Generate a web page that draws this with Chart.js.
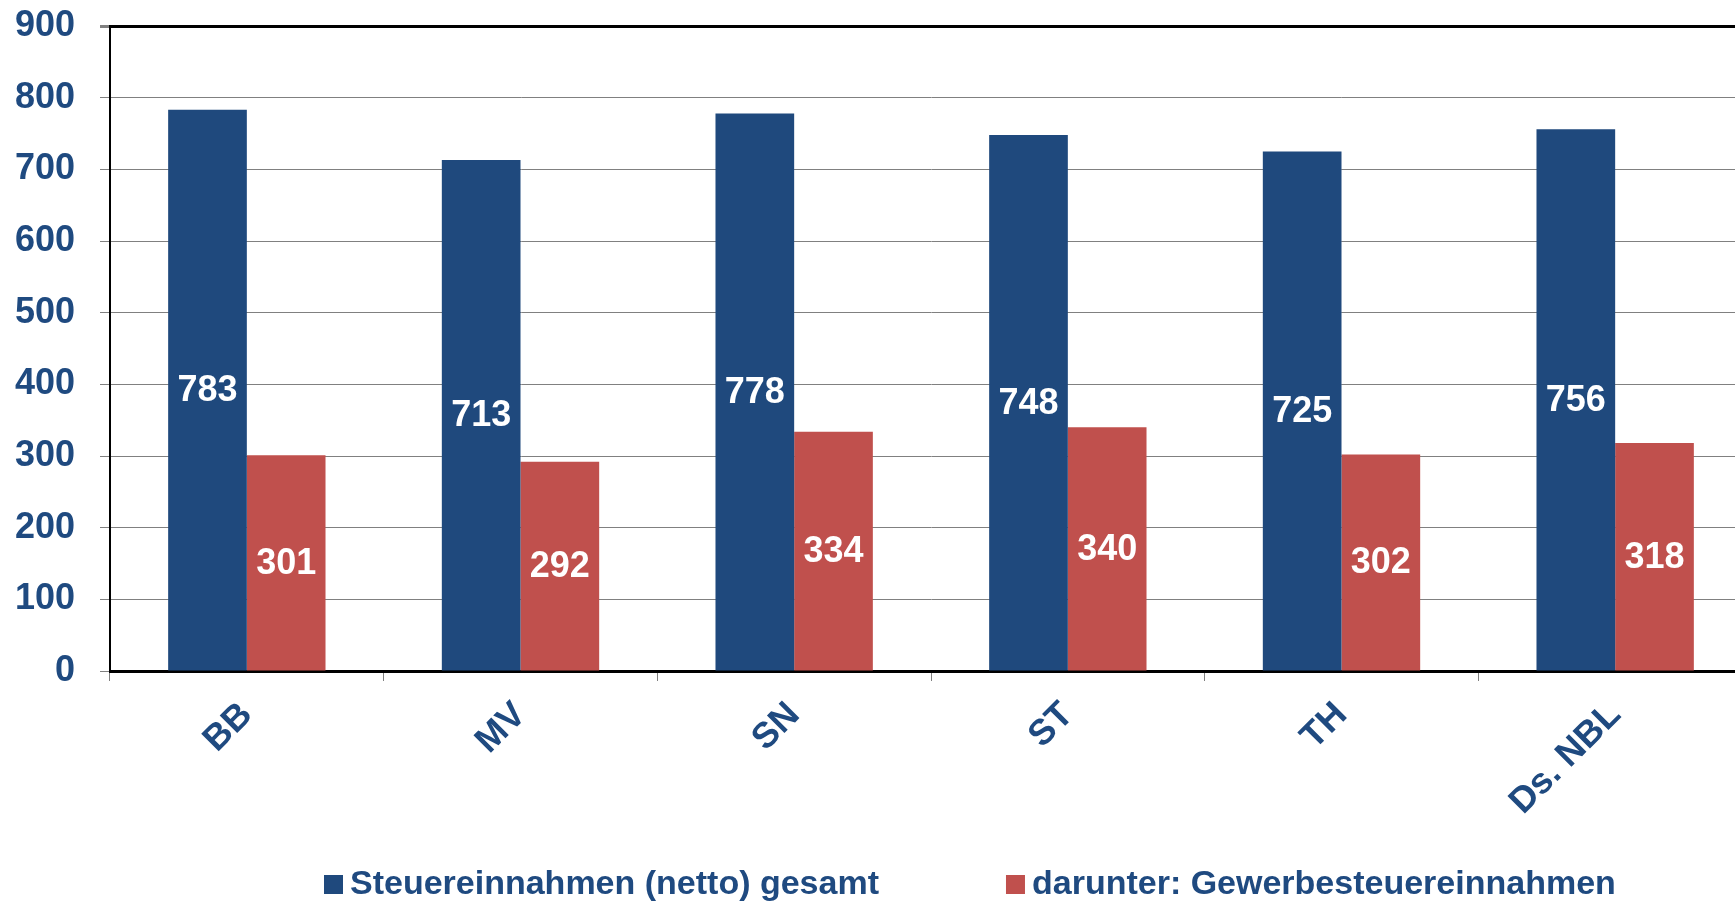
<!DOCTYPE html>
<html>
<head>
<meta charset="utf-8">
<title>Steuereinnahmen</title>
<script src="https://cdn.jsdelivr.net/npm/chart.js@4"></script>
<style>
    html, body { margin: 0; padding: 0; background: #fff; overflow: hidden; }
</style>
</head>
<body>
<canvas id="myChart" width="1752" height="902"></canvas>
<script>
    // Steuereinnahmen je Einwohner, neue Bundesländer
    const labels = ['BB', 'MV', 'SN', 'ST', 'TH', 'Ds. NBL'];
    const steuerGesamt = [783, 713, 778, 748, 725, 756];
    const gewerbeSteuer = [301, 292, 334, 340, 302, 318];
    const yTicks = [0, 100, 200, 300, 400, 500, 600, 700, 800, 900];

    const blau = '#1F497D';
    const rot = '#C0504D';
    const textBlau = '#1F4A80';
    const fontFamily = '"Liberation Sans", Arial, sans-serif';

    // Werte in die Balken schreiben
    const barLabels = {
        id: 'barLabels',
        afterDatasetsDraw(chart) {
            const ctx = chart.ctx;
            ctx.save();
            ctx.font = 'bold 36px ' + fontFamily;
            ctx.fillStyle = '#fff';
            ctx.textAlign = 'center';
            ctx.textBaseline = 'middle';
            chart.data.datasets.forEach(function (ds, i) {
                chart.getDatasetMeta(i).data.forEach(function (bar, j) {
                    ctx.fillText(ds.data[j], bar.x, (bar.y + bar.base) / 2 + 1);
                });
            });
            ctx.restore();
        }
    };

    // Legende unten (eigene Zeichnung, damit sie wie im Original sitzt)
    const bottomLegend = {
        id: 'bottomLegend',
        afterDraw(chart) {
            const ctx = chart.ctx;
            ctx.save();
            ctx.font = 'bold 34px ' + fontFamily;
            ctx.textBaseline = 'alphabetic';
            ctx.textAlign = 'left';
            let x = 324;
            const baseY = 894;
            chart.data.datasets.forEach(function (ds) {
                ctx.fillStyle = ds.backgroundColor;
                ctx.fillRect(x, baseY - 19, 19, 19);
                x += 26;
                ctx.fillStyle = textBlau;
                ctx.fillText(ds.label, x, baseY);
                x += ctx.measureText(ds.label).width + 127;
            });
            ctx.restore();
        }
    };

    var ctx1 = document.getElementById('myChart');
    var myChart = new Chart(ctx1, {
        type: 'bar',
        data: {
            labels: labels,
            datasets: [{
                label: 'Steuereinnahmen (netto) gesamt',
                backgroundColor: blau,
                data: steuerGesamt,
                categoryPercentage: 0.575,
                barPercentage: 1.0
            }, {
                label: 'darunter: Gewerbesteuereinnahmen',
                backgroundColor: rot,
                data: gewerbeSteuer,
                categoryPercentage: 0.575,
                barPercentage: 1.0
            }]
        },
        options: {
            responsive: false,
            animation: false,
            layout: { padding: { top: 26, right: 0, bottom: 0, left: 0 } },
            plugins: {
                legend: { display: false },
                tooltip: { enabled: false }
            },
            scales: {
                x: {
                    afterFit: function (scale) {
                        scale.height = 231;
                        scale.paddingLeft = 0;
                        scale.paddingRight = 0;
                    },
                    grid: {
                        offset: true,
                        drawOnChartArea: false,
                        tickLength: 10,
                        tickColor: '#808080'
                    },
                    border: { color: '#000', width: 3 },
                    ticks: {
                        minRotation: 45,
                        maxRotation: 45,
                        padding: 13,
                        color: textBlau,
                        font: { family: fontFamily, size: 36, weight: 'bold' }
                    }
                },
                y: {
                    min: 0,
                    max: 900,
                    afterFit: function (scale) {
                        scale.width = 110;
                        scale.paddingTop = 0;
                        scale.paddingBottom = 0;
                    },
                    afterBuildTicks: function (scale) {
                        scale.ticks = yTicks.map(function (v) { return { value: v }; });
                    },
                    grid: {
                        color: function (c) { return c.tick && c.tick.value === 900 ? '#000' : '#808080'; },
                        lineWidth: function (c) { return c.tick && c.tick.value === 900 ? 3 : 1; },
                        tickColor: '#808080',
                        tickLength: 10
                    },
                    border: { color: '#000', width: 2 },
                    ticks: {
                        padding: 25,
                        color: textBlau,
                        font: { family: fontFamily, size: 36, weight: 'bold' }
                    }
                }
            }
        },
        plugins: [barLabels, bottomLegend]
    });
</script>
</body>
</html>
